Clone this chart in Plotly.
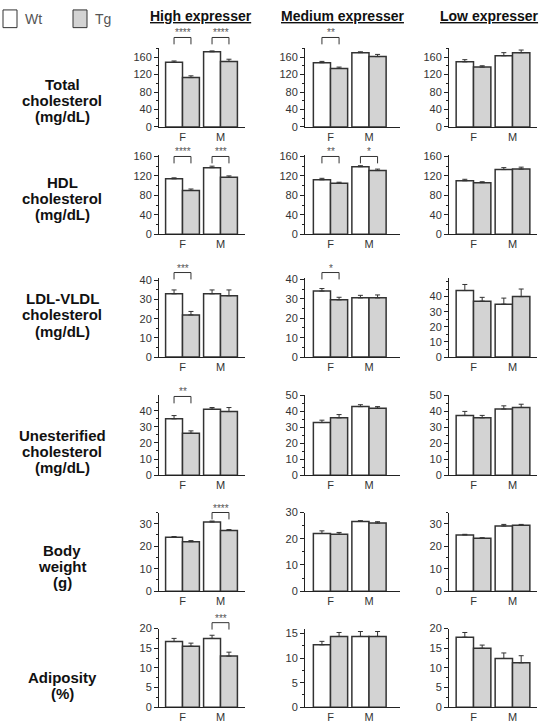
import plotly.graph_objects as go

W, H = 544, 728

# ---------------- data ----------------
groups = ["High expresser", "Medium expresser", "Low expresser"]
sexes = ["F", "M"]
genotypes = ["Wt", "Tg"]
measures = ["Total|cholesterol|(mg/dL)", "HDL|cholesterol|(mg/dL)", "LDL-VLDL|cholesterol|(mg/dL)",
            "Unesterified|cholesterol|(mg/dL)", "Body|weight|(g)", "Adiposity|(%)"]

# order in each list: High F, High M, Medium F, Medium M, Low F, Low M
total_wt = [148, 172, 147, 170, 149, 163]
total_wt_sem = [3, 2, 3, 2, 5, 7]
total_tg = [113, 150, 134, 161, 137, 170]
total_tg_sem = [4, 5, 3, 5, 3, 6]
total_sig = ["****", "****", "**", "", "", ""]

hdl_wt = [114, 137, 112, 139, 110, 133]
hdl_wt_sem = [2, 3, 3, 2, 3, 4]
hdl_tg = [90, 117, 105, 131, 106, 134]
hdl_tg_sem = [3, 3, 2, 3, 2, 4]
hdl_sig = ["****", "***", "**", "*", "", ""]

ldl_wt = [33, 33, 34, 30.5, 44, 35]
ldl_wt_sem = [2, 2, 1.3, 1.3, 4, 4]
ldl_tg = [22, 32, 29.5, 30.5, 37, 40]
ldl_tg_sem = [1.8, 3, 1.3, 1.5, 2.5, 5]
ldl_sig = ["***", "", "*", "", "", ""]

unest_wt = [35, 41, 33, 43, 37.5, 41.5]
unest_wt_sem = [2, 1, 1.5, 1.2, 2.5, 2]
unest_tg = [26, 39.5, 36, 42, 36, 42.5]
unest_tg_sem = [1.5, 2.5, 2, 1, 1.5, 2]
unest_sig = ["**", "", "", "", "", ""]

bw_wt = [24, 30.8, 22, 26.6, 25, 29]
bw_wt_sem = [0.3, 0.4, 1, 0.3, 0.3, 0.7]
bw_tg = [22, 27, 21.7, 26, 23.5, 29.3]
bw_tg_sem = [0.5, 0.4, 0.7, 0.5, 0.3, 0.4]
bw_sig = ["", "****", "", "", "", ""]

adip_wt = [16.7, 17.5, 12.7, 14.4, 17.8, 12.4]
adip_wt_sem = [0.8, 0.8, 0.7, 1, 1.2, 1.4]
adip_tg = [15.5, 13, 14.4, 14.4, 15, 11.3]
adip_tg_sem = [0.8, 1, 0.8, 1, 0.8, 1.8]
adip_sig = ["", "***", "", "", "", ""]

# y axis: max of range, major ticks, minor tick step (per panel High, Medium, Low)
y_max = [[180, 180, 180], [162, 162, 162], [41, 40.5, 52], [49.5, 50, 50], [35, 30, 35], [20, 16, 20]]
y_ticks = [
    [[0, 40, 80, 120, 160]] * 3,
    [[0, 40, 80, 120, 160]] * 3,
    [[0, 10, 20, 30, 40]] * 3,
    [[0, 10, 20, 30, 40], [0, 10, 20, 30, 40, 50], [0, 10, 20, 30, 40, 50]],
    [[0, 10, 20, 30]] * 3,
    [[0, 5, 10, 15, 20], [0, 5, 10, 15], [0, 5, 10, 15, 20]],
]
y_minor = [20, 20, 5, 5, 5, 2.5]

wt_all = [total_wt, hdl_wt, ldl_wt, unest_wt, bw_wt, adip_wt]
wt_sem_all = [total_wt_sem, hdl_wt_sem, ldl_wt_sem, unest_wt_sem, bw_wt_sem, adip_wt_sem]
tg_all = [total_tg, hdl_tg, ldl_tg, unest_tg, bw_tg, adip_tg]
tg_sem_all = [total_tg_sem, hdl_tg_sem, ldl_tg_sem, unest_tg_sem, bw_tg_sem, adip_tg_sem]
sig_all = [total_sig, hdl_sig, ldl_sig, unest_sig, bw_sig, adip_sig]

# ---------------- layout (screen pixels) ----------------
cols_px = [dict(L=159, R=245, cF=182.5, u=38),
           dict(L=305, R=400, cF=330.5, u=38.5),
           dict(L=449, R=537, cF=473.5, u=39)]
rows_px = [(43, 123), (152, 232), (277, 357), (396, 477), (515, 595), (633, 713)]
bracket_off = [-11, 1, -6, 1, 0, -6]   # bracket top relative to panel top (px)
leg_px = 7
label_centers = [96, 196, 314, 453, 570, 691]
label_x = 62
title_x = [201, 342, 489]


def px_x(p):
    return p / W


def px_y(p):
    return 1 - p / H


BARGAP = 0.11
bar_w = (1 - BARGAP) / 2
FONT = "Arial, Liberation Sans, sans-serif"
EDGE = "#333333"
TG_FILL = "#d3d3d3"

fig = go.Figure()
shapes, annotations = [], []
layout = {}

for r in range(6):
    T, B = rows_px[r]
    for c in range(3):
        k = r * 3 + c + 1
        xn = "x" if k == 1 else f"x{k}"
        yn = "y" if k == 1 else f"y{k}"
        cp = cols_px[c]
        x0 = (cp["L"] - cp["cF"]) / cp["u"]
        x1 = (cp["R"] - cp["cF"]) / cp["u"]
        sl = slice(2 * c, 2 * c + 2)
        for g, (vals, sems, fill) in enumerate([(wt_all[r], wt_sem_all[r], "white"),
                                                (tg_all[r], tg_sem_all[r], TG_FILL)]):
            fig.add_trace(go.Bar(
                x=[0, 1], y=vals[sl], name=genotypes[g], showlegend=False,
                xaxis=xn, yaxis=yn,
                marker=dict(color=fill, line=dict(color=EDGE, width=1.5)),
                error_y=dict(type="data", array=sems[sl], arrayminus=[0, 0], symmetric=False,
                             color="#333", thickness=1, width=2.5),
            ))
        layout["xaxis" if k == 1 else f"xaxis{k}"] = dict(
            domain=[px_x(cp["L"]), px_x(cp["R"])], range=[x0, x1], anchor=yn,
            tickmode="array", tickvals=[0, 1], ticktext=sexes,
            showline=True, linecolor="#222", linewidth=1, ticks="",
            showgrid=False, zeroline=False, fixedrange=True,
            tickfont=dict(family=FONT, size=11, color="#333"),
        )
        layout["yaxis" if k == 1 else f"yaxis{k}"] = dict(
            domain=[px_y(B), px_y(T)], range=[0, y_max[r][c]], anchor=xn,
            tickmode="array", tickvals=y_ticks[r][c],
            showline=True, linecolor="#222", linewidth=1,
            ticks="outside", ticklen=4, tickcolor="#222", tickwidth=1,
            minor=dict(tickmode="linear", tick0=0, dtick=y_minor[r], ticks="outside",
                       ticklen=2, tickcolor="#222"),
            showgrid=False, zeroline=False, fixedrange=True,
            tickfont=dict(family=FONT, size=11, color="#333"),
        )
        # significance brackets
        hpx = B - T
        ytop = 1 + (-bracket_off[r]) / hpx
        yleg = ytop - leg_px / hpx
        xdref = ("x" if k == 1 else f"x{k}") + " domain"
        ydref = ("y" if k == 1 else f"y{k}") + " domain"
        for j in range(2):
            s = sig_all[r][2 * c + j]
            if not s:
                continue
            xa = (j - bar_w / 2 - x0) / (x1 - x0)
            xb = (j + bar_w / 2 - x0) / (x1 - x0)
            line = dict(color="#333", width=1)
            shapes.append(dict(type="line", xref=xdref, yref=ydref, x0=xa, x1=xa, y0=yleg, y1=ytop, line=line))
            shapes.append(dict(type="line", xref=xdref, yref=ydref, x0=xa, x1=xb, y0=ytop, y1=ytop, line=line))
            shapes.append(dict(type="line", xref=xdref, yref=ydref, x0=xb, x1=xb, y0=yleg, y1=ytop, line=line))
            annotations.append(dict(text=s, xref=xdref, yref=ydref, x=(xa + xb) / 2, y=ytop,
                                    xanchor="center", yanchor="bottom", yshift=-3, showarrow=False,
                                    font=dict(family=FONT, size=10, color="#555")))

# row labels
for r, lab in enumerate(measures):
    lines = lab.split("|")
    n = len(lines)
    for i, ln in enumerate(lines):
        ypx = label_centers[r] + (i - (n - 1) / 2) * 16.5
        annotations.append(dict(text=f"<b>{ln}</b>", xref="paper", yref="paper", x=px_x(label_x), y=px_y(ypx),
                                xanchor="center", yanchor="middle", showarrow=False,
                                font=dict(family=FONT, size=15, color="#111")))

# column titles
for c, g in enumerate(groups):
    annotations.append(dict(text=f"<b><u>{g}</u></b>", xref="paper", yref="paper", x=px_x(title_x[c]), y=px_y(10),
                            xanchor="center", yanchor="middle", showarrow=False,
                            font=dict(family=FONT, size=14, color="#111")))

# legend
for i, (g, fill) in enumerate(zip(genotypes, ["white", TG_FILL])):
    bx = 3 + i * 70
    shapes.append(dict(type="rect", xref="paper", yref="paper", x0=px_x(bx), x1=px_x(bx + 14),
                       y0=px_y(22), y1=px_y(4), fillcolor=fill, line=dict(color=EDGE, width=1)))
    annotations.append(dict(text=g, xref="paper", yref="paper", x=px_x(bx + 20), y=px_y(13),
                            xanchor="left", yanchor="middle", showarrow=False,
                            font=dict(family=FONT, size=14, color="#555")))

fig.update_layout(
    width=W, height=H, margin=dict(l=0, r=0, t=0, b=0),
    paper_bgcolor="white", plot_bgcolor="white",
    barmode="group", bargap=BARGAP, bargroupgap=0,
    showlegend=False, shapes=shapes, annotations=annotations,
    **layout,
)

fig.write_html("out.html", config={"displayModeBar": False},
               post_script="document.body.style.margin='0';document.body.style.overflow='hidden';")
